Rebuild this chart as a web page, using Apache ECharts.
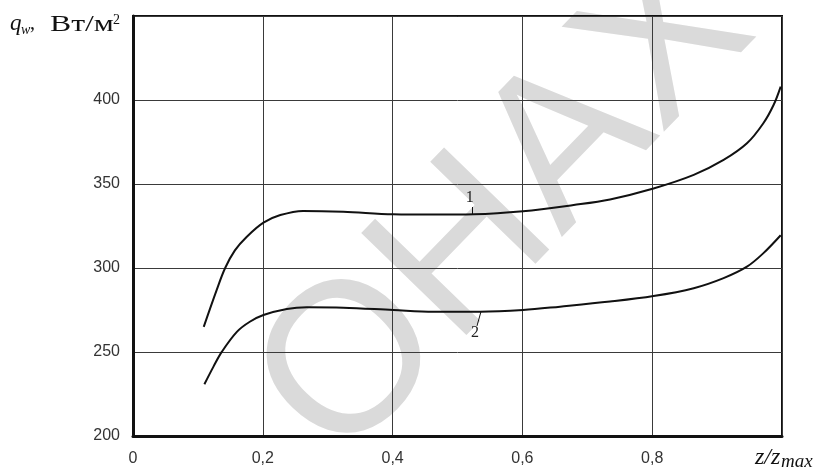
<!DOCTYPE html>
<html>
<head>
<meta charset="utf-8">
<script src="https://cdn.jsdelivr.net/npm/echarts@6/dist/echarts.min.js"></script>
<style>
  html, body { margin: 0; padding: 0; background: #fff; }
  #chart { width: 817px; height: 468px; }
</style>
</head>
<body>
<div id="chart"></div>
<script>
// Relative coordinate z/zmax and wall heat flux q_w (W/m^2) for the two regimes
const xTicks = [0, 0.2, 0.4, 0.6, 0.8];
const yTicks = [200, 250, 300, 350, 400];

const z1 = [0.109, 0.129, 0.142, 0.157, 0.175, 0.201, 0.227, 0.262, 0.324, 0.401, 0.463, 0.525, 0.601, 0.679, 0.735, 0.802, 0.864, 0.910, 0.946, 0.971, 0.987, 0.998];
const q1 = [265, 287, 300, 310.5, 318.5, 327, 331.5, 334, 333.5, 332, 331.8, 332, 333.8, 337.5, 340.8, 347.3, 355.4, 364.3, 374.2, 386, 397, 408];

const z2 = [0.110, 0.124, 0.137, 0.160, 0.180, 0.201, 0.237, 0.268, 0.324, 0.401, 0.463, 0.535, 0.601, 0.658, 0.735, 0.802, 0.864, 0.910, 0.946, 0.971, 0.998];
const q2 = [230.8, 241.3, 250.2, 262, 268, 272, 275.6, 276.6, 276.4, 275, 274, 274, 275, 277, 280, 283.3, 288, 294, 300.8, 308.7, 319.5];

// Curve numbers with their leader strokes: [from on curve], [to], [text anchor]
const curveNames = ['1', '2'];
const leader1 = [[0.5225, 332], [0.5225, 336.3]];
const leader2 = [[0.536, 273.8], [0.530, 265.5]];
const nameAt1 = [0.519, 341.5];
const nameAt2 = [0.527, 261.5];

const pairs = (xs, ys) => xs.map((x, i) => [x, ys[i]]);

const sans = '"Liberation Sans", Arial, sans-serif';
const serif = '"Liberation Serif", "Times New Roman", serif';
const ink = '#111';

function curveSeries(xs, ys, leader, nameAt, name) {
  return {
    type: 'line',
    data: pairs(xs, ys),
    showSymbol: false,
    smooth: 0.35,
    lineStyle: { color: ink, width: 2 },
    z: 5,
    markLine: {
      silent: true,
      symbol: ['none', 'none'],
      lineStyle: { color: ink, width: 1, type: 'solid' },
      label: { show: false },
      data: [[{ coord: leader[0] }, { coord: leader[1] }]]
    },
    markPoint: {
      silent: true,
      symbol: 'circle',
      symbolSize: 0,
      label: {
        show: true,
        position: 'inside',
        formatter: name,
        color: '#222',
        fontFamily: serif,
        fontSize: 16
      },
      data: [{ coord: nameAt }]
    }
  };
}

const chart = echarts.init(document.getElementById('chart'));
chart.setOption({
  animation: false,
  backgroundColor: '#fff',
  grid: {
    left: 133, right: 35, top: 16, bottom: 32,
    show: true, borderColor: ink, borderWidth: 2, backgroundColor: 'transparent'
  },
  xAxis: {
    type: 'value', min: 0, max: 1, interval: 0.2,
    axisLine: { show: true, lineStyle: { color: ink, width: 3 } },
    axisTick: { show: false },
    splitLine: { show: true, lineStyle: { color: '#3a3a3a', width: 1 } },
    axisLabel: {
      margin: 15, color: '#333', fontFamily: sans, fontSize: 16,
      formatter: v => {
        const t = xTicks.find(k => Math.abs(k - v) < 1e-6);
        if (t === undefined) return '';
        return t === 0 ? '0' : t.toFixed(1).replace('.', ',');
      }
    }
  },
  yAxis: {
    type: 'value', min: 200, max: 450, interval: 50,
    axisLine: { show: true, lineStyle: { color: ink, width: 3 } },
    axisTick: { show: false },
    splitLine: { show: true, lineStyle: { color: '#3a3a3a', width: 1 } },
    axisLabel: {
      margin: 13, color: '#333', fontFamily: sans, fontSize: 16,
      formatter: v => (yTicks.includes(Math.round(v)) ? String(Math.round(v)) : '')
    }
  },
  graphic: [
    {
      type: 'text', x: 507, y: 209, rotation: 0.80, z: -10,
      style: {
        text: 'ОНАХ', font: '213px "Liberation Sans", Arial, sans-serif',
        fill: '#dadada', textAlign: 'center', textVerticalAlign: 'middle'
      }
    },
    { type: 'text', x: 10, y: 12, style: { text: 'q', font: 'italic 23px ' + serif, fill: ink } },
    { type: 'text', x: 21, y: 23, style: { text: 'w', font: 'italic 14px ' + serif, fill: ink } },
    { type: 'text', x: 30, y: 14, style: { text: ',', font: '20px ' + serif, fill: ink } },
    { type: 'text', x: 50, y: 13, scaleX: 1.38, style: { text: 'Вт/м', font: '23px ' + serif, fill: ink } },
    { type: 'text', x: 113, y: 13, style: { text: '2', font: '14px ' + serif, fill: ink } },
    { type: 'text', x: 755, y: 446, style: { text: 'z/z', font: 'italic 24px ' + serif, fill: ink } },
    { type: 'text', x: 781, y: 452, style: { text: 'max', font: 'italic 19px ' + serif, fill: ink } }
  ],
  series: [
    curveSeries(z1, q1, leader1, nameAt1, curveNames[0]),
    curveSeries(z2, q2, leader2, nameAt2, curveNames[1])
  ]
});
</script>
</body>
</html>
